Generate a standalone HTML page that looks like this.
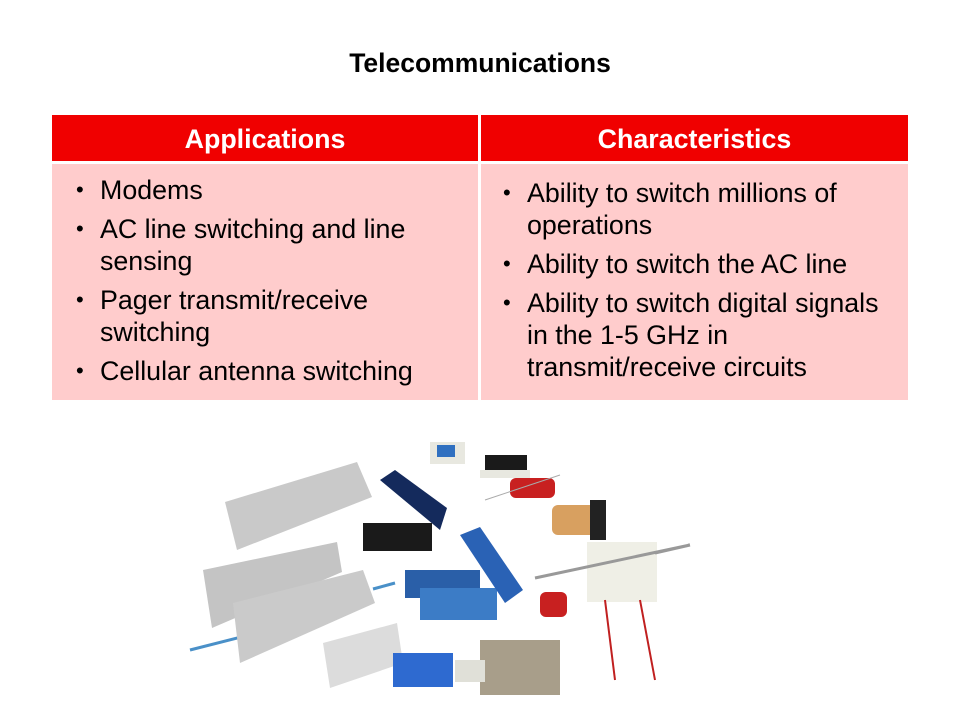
<!DOCTYPE html>
<html><head><meta charset="utf-8"><style>
body{margin:0;width:960px;height:720px;background:#fff;position:relative;overflow:hidden;font-family:"Liberation Sans",Arial,sans-serif;}
.t{position:absolute;left:0;width:960px;top:48px;text-align:center;font-weight:bold;font-size:26.5px;color:#000;}
.hd{position:absolute;top:115px;height:46px;background:#f00000;color:#fff;font-weight:bold;font-size:26.8px;line-height:48px;text-align:center;}
.bd{position:absolute;top:164px;height:236px;background:#ffcccc;}
ul{margin:0;padding:0;list-style:none;position:absolute;font-size:26.8px;color:#000;white-space:nowrap;}
li{position:relative;padding-left:26px;line-height:32px;margin-bottom:7px;}
li:before{content:"•";position:absolute;left:2px;font-size:22px;}
</style></head><body>
<div class="t">Telecommunications</div>
<div class="hd" style="left:52px;width:426px">Applications</div>
<div class="hd" style="left:481px;width:427px">Characteristics</div>
<div class="bd" style="left:52px;width:426px"></div>
<div class="bd" style="left:481px;width:427px"></div>
<ul style="left:74px;top:174px">
<li>Modems</li>
<li>AC line switching and line<br>sensing</li>
<li>Pager transmit/receive<br>switching</li>
<li>Cellular antenna switching</li>
</ul>
<ul style="left:501px;top:177px">
<li>Ability to switch millions of<br>operations</li>
<li>Ability to switch the AC line</li>
<li>Ability to switch digital signals<br>in the 1-5 GHz in<br>transmit/receive circuits</li>
</ul>
<svg width="960" height="720" style="position:absolute;left:0;top:0">
<path d="M190 650 L257 633" stroke="#4a90c8" stroke-width="3"/>
<path d="M373 589 L395 583" stroke="#4a90c8" stroke-width="3"/>
<polygon points="225,502 357,462 372,497 237,550" fill="#c9c9c9"/>
<polygon points="203,570 337,542 342,572 212,628" fill="#c4c4c4"/>
<polygon points="233,603 363,570 375,603 240,663" fill="#cacaca"/>
<polygon points="323,643 397,623 403,663 330,688" fill="#dcdcdc"/>
<polygon points="380,480 395,470 447,508 440,530" fill="#142a5c"/>
<rect x="363" y="523" width="69" height="28" fill="#1a1a1a"/>
<rect x="405" y="570" width="75" height="28" fill="#2a5fa8"/>
<rect x="420" y="588" width="77" height="32" fill="#3c7cc6"/>
<polygon points="460,535 480,527 523,590 505,603" fill="#2a62b5"/>
<rect x="393" y="653" width="60" height="34" fill="#2e6ad0"/>
<rect x="480" y="640" width="80" height="55" fill="#a89e8a"/>
<rect x="455" y="660" width="30" height="22" fill="#e0e0d8"/>
<rect x="587" y="542" width="70" height="60" fill="#efefe6"/>
<path d="M535 578 L690 545 M655 553 L690 545" stroke="#999" stroke-width="3"/>
<path d="M605 600 L615 680 M640 600 L655 680" stroke="#c02020" stroke-width="2"/>
<rect x="510" y="478" width="45" height="20" rx="6" fill="#c82020"/>
<path d="M485 500 L560 475" stroke="#aaa" stroke-width="1"/>
<rect x="540" y="592" width="27" height="25" rx="6" fill="#c82020"/>
<rect x="552" y="505" width="52" height="30" rx="6" fill="#d8a060"/>
<rect x="590" y="500" width="16" height="40" fill="#222"/>
<rect x="430" y="442" width="35" height="22" fill="#e8e8e0"/>
<rect x="437" y="445" width="18" height="12" fill="#3070c0"/>
<rect x="485" y="455" width="42" height="16" fill="#1a1a1a"/>
<rect x="480" y="470" width="50" height="8" fill="#e8e8e0"/>
</svg>
</body></html>
